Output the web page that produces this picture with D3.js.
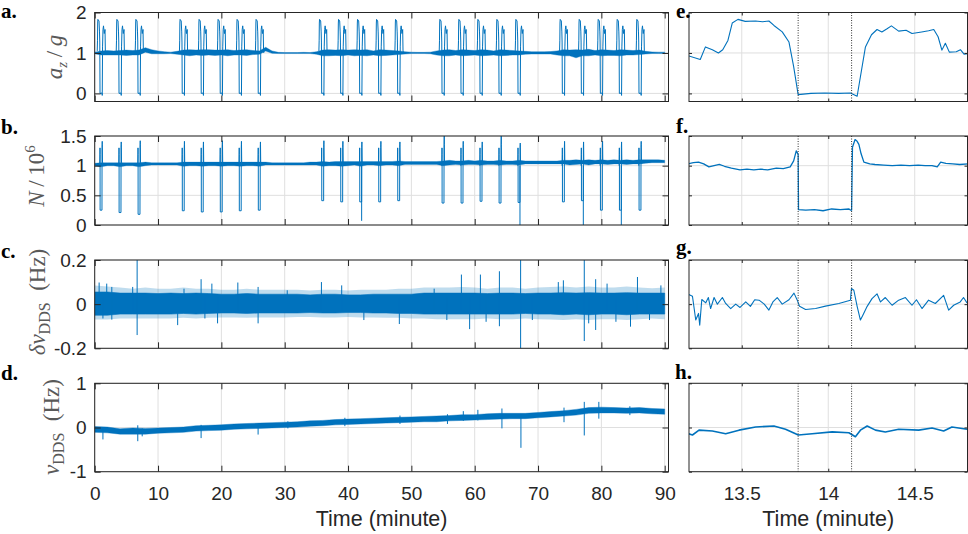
<!DOCTYPE html>
<html>
<head>
<meta charset="utf-8">
<script src="https://cdn.jsdelivr.net/npm/d3@7"></script>
<style>
  body { margin: 0; background: #fff; }
  svg text { font-family: "Liberation Sans", Arial, sans-serif; }
</style>
</head>
<body>
<svg id="fig" width="968" height="534"></svg>
<script>
// ---------------- data ----------------
// freefall start of every parabola (minute)
var parabolaT = [0.85, 3.85, 6.85, 13.83, 16.83, 19.83, 22.83, 25.83,
                 35.85, 38.85, 41.85, 44.85, 47.85, 54.85, 57.85, 60.85, 63.85, 66.85,
                 73.85, 76.85, 79.85, 82.85, 85.95];
// a_z/g profile of one parabola, offset from freefall start
var azOff = [-0.45, -0.41, -0.38, -0.35, -0.17, -0.09, -0.05, -0.01, 0.30, 0.34, 0.39, 0.46, 0.54, 0.66, 0.78, 0.83, 0.87];
var azVal = [1.05, 1.3, 1.74, 1.83, 1.79, 1.52, 1.27, 0.0, 0.01, -0.05, 1.15, 1.58, 1.67, 1.48, 1.58, 1.07, 1.0];
// atom number during each parabola
var nDip  = [0.25, 0.21, 0.18, 0.24, 0.22, 0.22, 0.24, 0.25, 0.41, 0.39, 0.39, 0.39, 0.41,
             0.37, 0.37, 0.40, 0.37, 0.38, 0.39, 0.41, 0.25, 0.25, 0.25];
var nPeak = [1.41, 1.40, 1.42, 1.41, 1.40, 1.42, 1.41, 1.40, 1.42, 1.41, 1.40, 1.41, 1.40,
             1.5, 1.41, 1.40, 1.5, 1.38, 1.41, 1.40, 1.41, 1.40, 1.41];
var nOff   = [-0.05, -0.011, 0.0, 0.004, 0.30, 0.31, 0.34, 0.35, 0.38, 0.45];
var nShape = [1.0, 1.3, 1.19, "dip", "dip", 1.31, "peak", 1.36, 1.06, 1.03];
var nDeepT = [42.15, 67.15, 77.15, 83.15];
var nDeepV = [0.07, 0, 0, 0];

// 1-minute envelopes of the a_z/g and N traces (t = 0..90)
var minutes = d3.range(0, 91);
var azLo = [0.98,0.95,0.95,0.95,0.95,0.94,0.95,0.95,1.02,0.98,
            0.98,0.98,0.985,0.97,0.95,0.93,0.95,0.94,0.95,0.94,
            0.95,0.93,0.95,0.95,0.94,0.96,0.97,1.05,0.99,0.985,
            0.985,0.985,0.985,0.985,0.985,0.97,0.93,0.93,0.94,0.93,
            0.95,0.93,0.94,0.93,0.95,0.93,0.94,0.95,0.96,0.975,
            0.985,0.985,0.985,0.98,0.95,0.93,0.93,0.95,0.93,0.94,
            0.95,0.93,0.94,0.95,0.93,0.94,0.95,0.95,0.97,0.975,
            0.975,0.975,0.975,0.95,0.93,0.93,0.88,0.93,0.93,0.95,
            0.93,0.94,0.94,0.93,0.95,0.95,0.96,0.975,0.985,0.985,
            0.985];
var azHi = [1.02,1.05,1.06,1.05,1.06,1.07,1.06,1.07,1.13,1.08,
            1.05,1.03,1.02,1.04,1.07,1.08,1.07,1.08,1.08,1.07,
            1.07,1.08,1.06,1.07,1.08,1.06,1.05,1.14,1.05,1.015,
            1.01,1.01,1.01,1.015,1.01,1.03,1.07,1.08,1.07,1.08,
            1.07,1.08,1.07,1.08,1.05,1.08,1.07,1.06,1.05,1.03,
            1.02,1.015,1.015,1.02,1.05,1.07,1.08,1.06,1.08,1.07,
            1.06,1.08,1.07,1.05,1.08,1.07,1.06,1.05,1.04,1.03,
            1.03,1.03,1.035,1.05,1.08,1.07,1.08,1.07,1.09,1.06,
            1.08,1.07,1.06,1.08,1.07,1.06,1.07,1.04,1.025,1.02,
            1.02];
var nLo = [1.0,0.98,1.0,1.0,0.98,1.0,1.0,0.98,1.0,1.01,
           1.01,1.01,1.01,1.01,0.99,1.0,1.0,0.99,1.0,1.0,
           0.99,1.0,1.0,0.99,1.0,1.0,0.99,1.01,1.01,1.01,
           1.01,1.01,1.01,1.01,1.01,1.01,0.99,1.0,1.0,0.99,
           1.0,1.01,0.99,1.01,1.01,1.0,1.01,1.01,1.0,1.02,
           1.02,1.02,1.02,1.02,1.02,1.0,1.01,1.02,1.01,1.02,
           1.02,1.01,1.02,1.02,1.01,1.02,1.02,1.01,1.03,1.03,
           1.03,1.03,1.03,1.03,1.03,1.01,1.02,1.03,1.01,1.03,
           1.03,1.02,1.03,1.03,1.02,1.03,1.03,1.04,1.05,1.05,
           1.05];
var nHi = [1.04,1.05,1.05,1.05,1.05,1.05,1.05,1.05,1.06,1.05,
           1.05,1.05,1.05,1.05,1.06,1.06,1.06,1.06,1.06,1.06,
           1.06,1.06,1.06,1.06,1.06,1.06,1.06,1.06,1.05,1.05,
           1.05,1.05,1.05,1.05,1.06,1.06,1.07,1.06,1.07,1.07,
           1.07,1.07,1.07,1.07,1.07,1.07,1.07,1.07,1.08,1.07,
           1.07,1.07,1.07,1.07,1.07,1.08,1.09,1.08,1.08,1.09,
           1.08,1.09,1.08,1.08,1.09,1.08,1.08,1.09,1.08,1.08,
           1.08,1.08,1.08,1.08,1.09,1.09,1.1,1.09,1.1,1.09,
           1.1,1.09,1.1,1.09,1.1,1.09,1.1,1.1,1.1,1.1,
           1.09];

// 2-minute envelopes of the frequency traces (t = 0..90)
var twoMin = d3.range(0, 91, 2);
var dnuHi = [0.055,0.055,0.05,0.05,0.05,0.048,0.05,0.048,0.05,0.048,
             0.045,0.045,0.048,0.045,0.045,0.045,0.045,0.042,0.045,0.045,
             0.042,0.042,0.045,0.045,0.045,0.045,0.05,0.05,0.05,0.05,
             0.05,0.048,0.05,0.05,0.048,0.05,0.05,0.052,0.05,0.052,
             0.05,0.05,0.052,0.05,0.05,0.05];
var dnuLo = [-0.05,-0.05,-0.045,-0.045,-0.045,-0.045,-0.045,-0.042,-0.045,-0.042,
             -0.04,-0.04,-0.042,-0.04,-0.04,-0.04,-0.04,-0.038,-0.04,-0.04,
             -0.038,-0.038,-0.04,-0.04,-0.042,-0.042,-0.045,-0.045,-0.045,-0.045,
             -0.045,-0.045,-0.045,-0.045,-0.042,-0.045,-0.045,-0.048,-0.045,-0.048,
             -0.045,-0.045,-0.048,-0.045,-0.045,-0.045];
var dnuOutHi = [0.085,0.08,0.075,0.07,0.075,0.07,0.07,0.075,0.07,0.07,
                0.065,0.065,0.07,0.065,0.065,0.065,0.065,0.062,0.065,0.065,
                0.062,0.065,0.065,0.065,0.07,0.07,0.075,0.075,0.075,0.078,
                0.075,0.07,0.075,0.075,0.07,0.075,0.078,0.08,0.075,0.08,
                0.075,0.075,0.08,0.075,0.072,0.075];
var dnuOutLo = [-0.07,-0.07,-0.065,-0.065,-0.065,-0.065,-0.065,-0.062,-0.065,-0.062,
                -0.06,-0.06,-0.062,-0.06,-0.06,-0.06,-0.058,-0.058,-0.06,-0.06,
                -0.058,-0.06,-0.06,-0.062,-0.062,-0.065,-0.065,-0.068,-0.068,-0.068,
                -0.068,-0.065,-0.068,-0.068,-0.065,-0.068,-0.07,-0.072,-0.068,-0.072,
                -0.068,-0.068,-0.072,-0.068,-0.065,-0.068];
var dnuSpikeT  = [0.7,1.3,1.9,2.7,6.0,6.7,13.1,14.1,16.8,17.4,18.5,19.4,22.6,25.8,30.4,35.8,39.0,42.5,48.1,53.6,
                  55.6,57.9,59.2,60.9,61.8,63.9,67.25,69.1,73.2,74.0,77.3,78.0,79.1,80.9,82.3,84.6,85.7,87.6,89.4];
var dnuSpikeLo = [-0.03,-0.065,-0.03,-0.07,-0.03,-0.14,-0.095,-0.03,-0.03,-0.065,-0.03,-0.087,-0.03,-0.087,-0.03,-0.03,-0.03,-0.072,-0.09,-0.03,
                  -0.072,-0.03,-0.113,-0.03,-0.08,-0.1,-0.21,-0.072,-0.03,-0.03,-0.167,-0.087,-0.117,-0.03,-0.08,-0.102,-0.03,-0.072,-0.03];
var dnuSpikeHi = [0.098,0.03,0.093,0.078,0.078,0.21,0.03,0.07,0.113,0.03,0.093,0.03,0.098,0.078,0.063,0.1,0.085,0.03,0.03,0.07,
                  0.03,0.134,0.03,0.134,0.03,0.149,0.21,0.03,0.1,0.108,0.21,0.03,0.113,0.093,0.03,0.03,0.123,0.03,0.085];

var nuHi = [0.02,0.01,-0.03,-0.01,-0.02,-0.01,0.0,0.01,0.04,0.05,
            0.06,0.08,0.09,0.1,0.11,0.12,0.13,0.15,0.16,0.18,
            0.19,0.2,0.21,0.22,0.23,0.24,0.25,0.26,0.27,0.29,
            0.29,0.31,0.32,0.32,0.32,0.34,0.36,0.38,0.41,0.45,
            0.46,0.45,0.44,0.45,0.43,0.42];
var nuLo = [-0.11,-0.12,-0.15,-0.15,-0.15,-0.13,-0.12,-0.11,-0.08,-0.07,
            -0.06,-0.04,-0.03,-0.02,-0.01,0.0,0.01,0.03,0.04,0.06,
            0.07,0.08,0.09,0.1,0.11,0.12,0.13,0.13,0.15,0.16,
            0.17,0.18,0.19,0.2,0.2,0.22,0.24,0.26,0.28,0.32,
            0.33,0.33,0.32,0.33,0.31,0.3];
var nuSpikeT  = [1.3, 6.8, 7.5, 16.8, 25.8, 30.5, 39.5, 48.2, 55.7, 58.2, 60.5, 64.3, 67.3, 74.1, 77.3, 79.6, 84.5];
var nuSpikeLo = [-0.27, -0.31, -0.2, -0.24, -0.16, -0.02, 0.03, 0.08, 0.08, 0.15, 0.16, -0.02, -0.46, 0.12, -0.18, 0.2, 0.28];
var nuSpikeHi = [-0.02, 0.05, -0.02, 0.06, 0.06, 0.14, 0.22, 0.27, 0.3, 0.37, 0.4, 0.43, 0.3, 0.45, 0.58, 0.58, 0.48];

// zoom on one parabola (panels e-h)
var eT = [13.19,13.26,13.29,13.33,13.365,13.39,13.42,13.445,13.478,13.52,13.58,13.62,13.657,13.686,13.734,13.773,13.80,13.826,
          13.9,13.98,14.06,14.128,14.167,14.215,14.25,14.282,14.31,14.34,14.365,14.407,14.45,14.484,14.54,14.58,14.61,14.635,
          14.657,14.677,14.70,14.74,14.764,14.785,14.81];
var eV = [0.93,0.84,1.15,1.08,1.0,1.08,1.31,1.74,1.83,1.78,1.79,1.77,1.79,1.68,1.52,1.27,0.66,-0.03,
          0.0,0.01,0.0,0.01,-0.07,1.15,1.45,1.58,1.52,1.6,1.67,1.54,1.56,1.48,1.52,1.55,1.58,1.4,
          1.07,1.24,1.02,1.03,1.08,0.97,0.98];
var fT = [13.19,13.22,13.25,13.28,13.31,13.34,13.37,13.40,13.44,13.49,13.53,13.57,13.61,13.65,13.70,13.74,13.78,13.80,13.815,13.826,
          13.828,13.87,13.92,13.97,14.02,14.07,14.12,14.13,14.135,14.14,14.155,14.167,14.177,14.19,14.206,14.24,14.27,14.32,14.37,14.42,
          14.47,14.52,14.56,14.6,14.63,14.65,14.68,14.72,14.76,14.81];
var fV = [1.03,1.05,1.06,1.03,0.98,1.0,1.02,0.99,0.96,0.93,0.94,0.93,0.94,0.93,0.96,0.95,0.98,1.08,1.25,1.19,
          0.26,0.25,0.26,0.24,0.27,0.26,0.27,0.25,0.25,1.31,1.44,1.41,1.36,1.2,1.06,1.03,1.02,1.01,1.0,1.01,
          1.0,1.01,1.0,1.0,0.98,1.06,1.04,1.03,1.02,1.03];
var gT = [13.19,13.215,13.234,13.25,13.257,13.269,13.292,13.307,13.32,13.34,13.359,13.388,13.407,13.436,13.465,13.49,13.523,13.55,13.575,13.6,
          13.63,13.657,13.68,13.705,13.734,13.773,13.802,13.821,13.834,13.869,13.927,13.984,14.061,14.128,14.134,14.148,14.167,14.186,14.2,14.225,
          14.253,14.282,14.302,14.33,14.369,14.407,14.446,14.484,14.51,14.542,14.58,14.619,14.667,14.696,14.725,14.763,14.782,14.802];
var gV = [0.045,0.036,-0.072,-0.042,-0.095,0.021,0.006,0.03,-0.02,0.03,0.0,0.03,0.003,-0.02,0.0,-0.015,0.01,-0.01,0.02,0.018,
          0.0,-0.027,0.01,0.03,0.0,0.02,0.05,0.018,-0.01,-0.024,-0.02,-0.009,0.003,0.018,0.071,0.063,-0.01,-0.072,-0.05,-0.01,
          0.025,0.047,0.01,0.03,-0.005,0.018,0.03,-0.005,0.02,-0.02,0.018,0.003,0.04,-0.027,-0.005,0.01,0.03,0.006];
var hT = [13.19,13.215,13.253,13.33,13.407,13.484,13.58,13.686,13.753,13.827,13.907,14.023,14.119,14.157,14.186,14.225,14.273,14.33,
          14.407,14.523,14.6,14.667,14.715,14.802];
var hV = [-0.136,-0.17,-0.06,-0.08,-0.14,-0.06,0.01,0.035,-0.04,-0.17,-0.14,-0.1,-0.12,-0.21,-0.06,0.035,-0.06,-0.1,
          -0.04,-0.06,-0.01,-0.08,0.01,-0.04];
var freefallMarks = [13.826, 14.135];

// axes
var xTicksLeft = [0, 10, 20, 30, 40, 50, 60, 70, 80, 90];
var xTicksRight = [13.5, 14, 14.5];

// ---------------- drawing ----------------
var BLUE = "#0072BD", AX = "#262626", GRID = "#dfdfdf";
var svg = d3.select("#fig");

var xL = d3.scaleLinear().domain([0, 90.6]).range([94.7, 668.5]);
var xR = d3.scaleLinear().domain([13.195, 14.805]).range([689, 967.5]);

var rows = [
  {top: 12.5,  bot: 101.5, dom: [-0.2, 2],   ticks: [0, 1, 2]},
  {top: 136,   bot: 225,   dom: [0, 1.5],    ticks: [0, 0.5, 1, 1.5]},
  {top: 260,   bot: 348.3, dom: [-0.2, 0.2], ticks: [-0.2, 0, 0.2]},
  {top: 383.3, bot: 471.7, dom: [-1, 1],     ticks: [-1, 0, 1]}
];
rows.forEach(function(r) { r.y = d3.scaleLinear().domain(r.dom).range([r.bot, r.top]); });

var clipN = 0;
function makeFrame(x, r, tickLen, xlabels, ylabels) {
  var x0 = x.range()[0], x1 = x.range()[1];
  var g = svg.append("g");
  var id = "clip" + (clipN++);
  svg.append("clipPath").attr("id", id).append("rect")
     .attr("x", x0).attr("y", r.top).attr("width", x1 - x0).attr("height", r.bot - r.top);
  // grid
  g.selectAll("line.vg").data(x.domain()[0] < 1 ? xTicksLeft : xTicksRight).join("line")
    .attr("x1", d => x(d)).attr("x2", d => x(d)).attr("y1", r.top).attr("y2", r.bot)
    .attr("stroke", GRID).attr("stroke-width", 1);
  g.selectAll("line.hg").data(r.ticks).join("line")
    .attr("y1", d => r.y(d)).attr("y2", d => r.y(d)).attr("x1", x0).attr("x2", x1)
    .attr("stroke", GRID).attr("stroke-width", 1);
  var plot = svg.append("g").attr("clip-path", "url(#" + id + ")");
  return {g: g, plot: plot, x: x, r: r, tickLen: tickLen, xlabels: xlabels, ylabels: ylabels};
}

function finishFrame(f) {
  var x = f.x, r = f.r, x0 = x.range()[0], x1 = x.range()[1];
  var xt = x.domain()[0] < 1 ? xTicksLeft : xTicksRight;
  var top = svg.append("g");
  function style(sel) {
    sel.select(".domain").remove();
    sel.attr("font-family", null).attr("font-size", 19);
    sel.selectAll("line").attr("stroke", AX);
    sel.selectAll("text").attr("fill", AX);
  }
  top.append("g").attr("transform", "translate(" + x0 + ",0)")
    .call(d3.axisLeft(r.y).tickValues(r.ticks).tickSizeInner(-f.tickLen).tickSizeOuter(0).tickPadding(8)
      .tickFormat(f.ylabels ? (d => String(d)) : "")).call(style);
  top.append("g").attr("transform", "translate(" + x1 + ",0)")
    .call(d3.axisRight(r.y).tickValues(r.ticks).tickSizeInner(-f.tickLen).tickSizeOuter(0).tickFormat("")).call(style);
  top.append("g").attr("transform", "translate(0," + r.bot + ")")
    .call(d3.axisBottom(x).tickValues(xt).tickSizeInner(-f.tickLen).tickSizeOuter(0).tickPadding(15)
      .tickFormat(f.xlabels ? (d => String(d)) : "")).call(style);
  top.append("g").attr("transform", "translate(0," + r.top + ")")
    .call(d3.axisTop(x).tickValues(xt).tickSizeInner(-f.tickLen).tickSizeOuter(0).tickFormat("")).call(style);
  top.append("rect").attr("x", x0).attr("y", r.top).attr("width", x1 - x0).attr("height", r.bot - r.top)
    .attr("fill", "none").attr("stroke", AX).attr("stroke-width", 1);
}

function band(f, ts, lo, hi, opacity, sw) {
  var a = d3.area().x((d, i) => f.x(ts[i])).y0((d, i) => f.r.y(lo[i])).y1((d, i) => f.r.y(hi[i]));
  f.plot.append("path").attr("d", a(ts)).attr("fill", BLUE).attr("fill-opacity", opacity)
    .attr("stroke", BLUE).attr("stroke-opacity", opacity).attr("stroke-width", sw === undefined ? 0.6 : sw);
}
function trace(f, pts, w) {
  var ln = d3.line().x(d => f.x(d[0])).y(d => f.r.y(d[1]));
  f.plot.append("path").attr("d", ln(pts)).attr("fill", "none").attr("stroke", BLUE)
    .attr("stroke-width", w || 1).attr("stroke-linejoin", "round");
}
function spikes(f, ts, lo, hi) {
  f.plot.selectAll(null).data(ts).join("line")
    .attr("x1", d => f.x(d)).attr("x2", d => f.x(d))
    .attr("y1", (d, i) => f.r.y(lo[i])).attr("y2", (d, i) => f.r.y(hi[i]))
    .attr("stroke", BLUE).attr("stroke-width", 1);
}
function marks(f) {
  f.plot.selectAll(null).data(freefallMarks).join("line")
    .attr("x1", d => f.x(d)).attr("x2", d => f.x(d)).attr("y1", f.r.top).attr("y2", f.r.bot)
    .attr("stroke", "#333").attr("stroke-width", 1).attr("stroke-dasharray", "1,1.5");
}

// ---- a: a_z/g
var fa = makeFrame(xL, rows[0], 6, false, true);
band(fa, minutes, azLo, azHi, 1, 0.4);
parabolaT.forEach(function(T) {
  trace(fa, azOff.map((o, i) => [T + o, azVal[i]]), 1);
});
finishFrame(fa);

// ---- b: N
var fb = makeFrame(xL, rows[1], 6, false, true);
band(fb, minutes, nLo, nHi, 1, 0.3);
parabolaT.forEach(function(T, k) {
  var pts = nOff.map(function(o, i) {
    var v = nShape[i] === "dip" ? nDip[k] : nShape[i] === "peak" ? nPeak[k] : nShape[i];
    return [T + o, v];
  });
  trace(fb, pts, 1);
});
spikes(fb, nDeepT, nDeepV, nDeepT.map(() => 1.0));
finishFrame(fb);

// ---- c: delta nu
var fc = makeFrame(xL, rows[2], 6, false, true);
band(fc, twoMin, dnuOutLo, dnuOutHi, 0.25, 0);
band(fc, twoMin, dnuLo, dnuHi, 1);
spikes(fc, dnuSpikeT, dnuSpikeLo, dnuSpikeHi);
finishFrame(fc);

// ---- d: nu
var fd = makeFrame(xL, rows[3], 6, true, true);
band(fd, twoMin, nuLo, nuHi, 1, 0.4);
spikes(fd, nuSpikeT, nuSpikeLo, nuSpikeHi);
finishFrame(fd);

// ---- e-h: zoom
var zoomSets = [[eT, eV, 1.1], [fT, fV, 1.3], [gT, gV, 1.1], [hT, hV, 1.6]];
zoomSets.forEach(function(s, k) {
  var f = makeFrame(xR, rows[k], 3, k === 3, false);
  trace(f, s[0].map((t, i) => [t, s[1][i]]), s[2]);
  marks(f);
  finishFrame(f);
});

// ---- text
svg.append("text").attr("x", 381.6).attr("y", 526).attr("text-anchor", "middle")
  .attr("font-size", 21.5).attr("fill", AX).text("Time (minute)");
svg.append("text").attr("x", 828.2).attr("y", 526).attr("text-anchor", "middle")
  .attr("font-size", 21.5).attr("fill", AX).text("Time (minute)");

var letters = [["a.", 1, 18], ["b.", 1, 134], ["c.", 1, 258], ["d.", 1, 380],
               ["e.", 676, 18], ["f.", 676, 133], ["g.", 676, 254], ["h.", 675, 379]];
svg.selectAll("text.lbl").data(letters).join("text")
  .attr("x", d => d[1]).attr("y", d => d[2])
  .style("font-family", "'Liberation Serif', 'Times New Roman', serif")
  .attr("font-weight", "bold").attr("font-size", 21).attr("fill", "#000").text(d => d[0]);

// y labels (LaTeX style)
var ylab = [
  {x: 62, y: 57,  parts: [["a", "i", 0], ["z", "i", 5, 15], ["\u2009/\u2009", "r", -5], ["g", "i", 0]]},
  {x: 44, y: 176, parts: [["N", "i", 0], ["\u2009/\u200910", "r", 0], ["6", "r", -9, 15]]},
  {x: 45, y: 302, parts: [["\u03b4\u03bd", "i", 0], ["DDS", "r", 5, 16], ["\u2002(Hz)", "r", -5]]},
  {x: 59, y: 427, parts: [["\u03bd", "i", 0], ["DDS", "r", 5, 16], ["\u2002(Hz)", "r", -5]]}
];
ylab.forEach(function(L) {
  var t = svg.append("text").attr("transform", "translate(" + L.x + "," + L.y + ") rotate(-90)")
    .attr("text-anchor", "middle").attr("font-size", 23).attr("fill", "#595959")
    .style("font-family", "'Liberation Serif', 'Times New Roman', serif");
  L.parts.forEach(function(p) {
    var s = t.append("tspan").text(p[0]).attr("dy", p[2])
      .attr("font-style", p[1] === "i" ? "italic" : "normal");
    if (p[3]) s.attr("font-size", p[3]);
  });
});
</script>
</body>
</html>
